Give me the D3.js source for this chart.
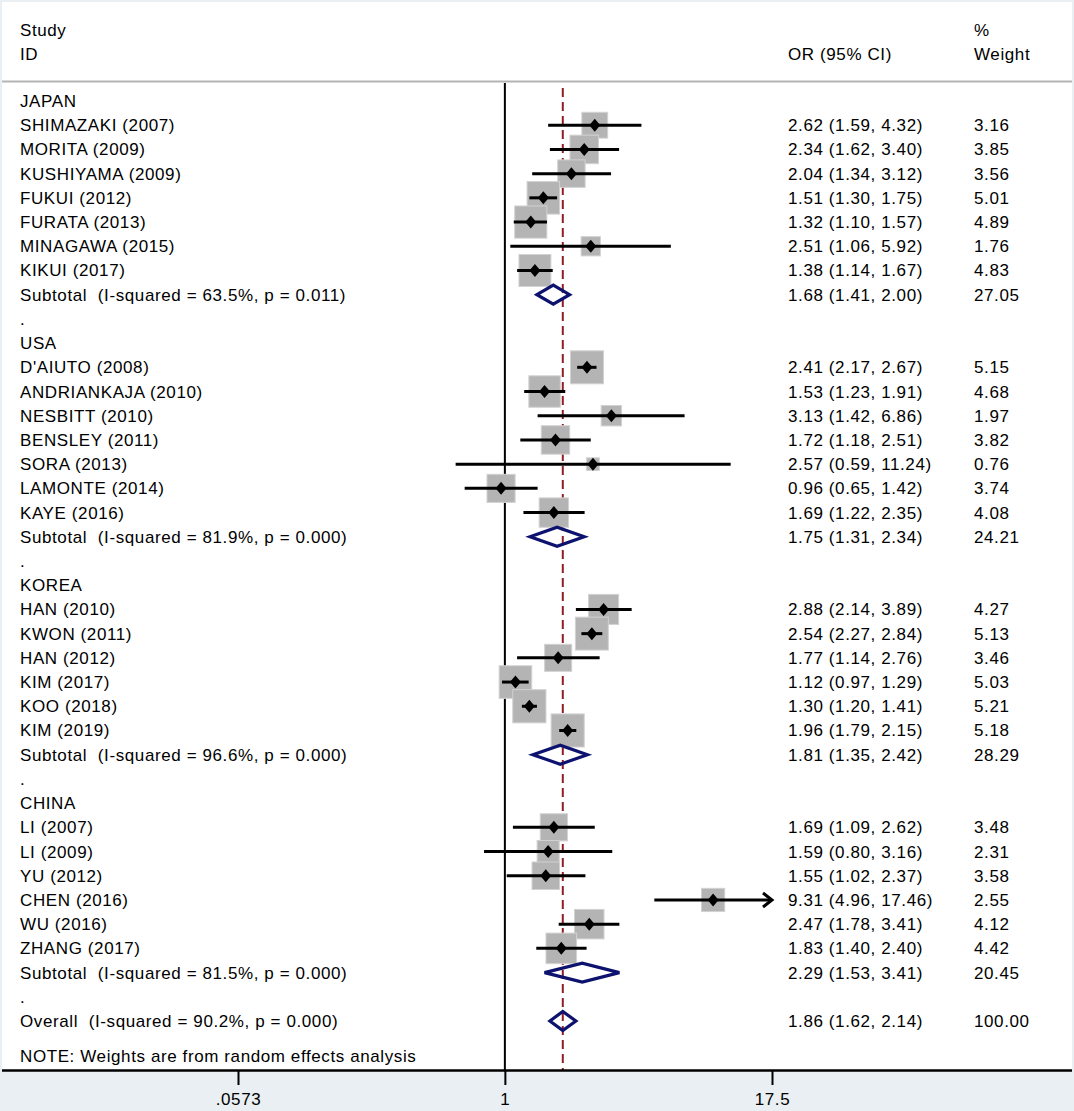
<!DOCTYPE html>
<html>
<head>
<meta charset="utf-8">
<script src="https://cdn.jsdelivr.net/npm/d3@7"></script>
<style>
  html, body { margin: 0; padding: 0; background: #fff; }
  svg text { font-family: "Liberation Sans", Arial, sans-serif; font-size: 17px; letter-spacing: 0.6px; fill: #000; white-space: pre; }
</style>
</head>
<body>
<svg id="chart"></svg>
<script>
const WIDTH = 1074;
const HEIGHT = 1111;

// Subgroups, in drawing order
const groups = ["JAPAN", "USA", "KOREA", "CHINA"];

// Individual studies
const studyNames = [
    "SHIMAZAKI (2007)", "MORITA (2009)", "KUSHIYAMA (2009)", "FUKUI (2012)", "FURATA (2013)", "MINAGAWA (2015)", "KIKUI (2017)",
    "D'AIUTO (2008)", "ANDRIANKAJA (2010)", "NESBITT (2010)", "BENSLEY (2011)", "SORA (2013)", "LAMONTE (2014)", "KAYE (2016)",
    "HAN (2010)", "KWON (2011)", "HAN (2012)", "KIM (2017)", "KOO (2018)", "KIM (2019)",
    "LI (2007)", "LI (2009)", "YU (2012)", "CHEN (2016)", "WU (2016)", "ZHANG (2017)"
];
const studyGroup = [
    "JAPAN", "JAPAN", "JAPAN", "JAPAN", "JAPAN", "JAPAN", "JAPAN",
    "USA", "USA", "USA", "USA", "USA", "USA", "USA",
    "KOREA", "KOREA", "KOREA", "KOREA", "KOREA", "KOREA",
    "CHINA", "CHINA", "CHINA", "CHINA", "CHINA", "CHINA"
];
const studyOR = [2.62, 2.34, 2.04, 1.51, 1.32, 2.51, 1.38,
    2.41, 1.53, 3.13, 1.72, 2.57, 0.96, 1.69,
    2.88, 2.54, 1.77, 1.12, 1.30, 1.96,
    1.69, 1.59, 1.55, 9.31, 2.47, 1.83];
const studyLo = [1.59, 1.62, 1.34, 1.30, 1.10, 1.06, 1.14,
    2.17, 1.23, 1.42, 1.18, 0.59, 0.65, 1.22,
    2.14, 2.27, 1.14, 0.97, 1.20, 1.79,
    1.09, 0.80, 1.02, 4.96, 1.78, 1.40];
const studyHi = [4.32, 3.40, 3.12, 1.75, 1.57, 5.92, 1.67,
    2.67, 1.91, 6.86, 2.51, 11.24, 1.42, 2.35,
    3.89, 2.84, 2.76, 1.29, 1.41, 2.15,
    2.62, 3.16, 2.37, 17.46, 3.41, 2.40];
const studyWeight = [3.16, 3.85, 3.56, 5.01, 4.89, 1.76, 4.83,
    5.15, 4.68, 1.97, 3.82, 0.76, 3.74, 4.08,
    4.27, 5.13, 3.46, 5.03, 5.21, 5.18,
    3.48, 2.31, 3.58, 2.55, 4.12, 4.42];

// Subgroup pooled estimates
const subLabels = [
    "Subtotal  (I-squared = 63.5%, p = 0.011)",
    "Subtotal  (I-squared = 81.9%, p = 0.000)",
    "Subtotal  (I-squared = 96.6%, p = 0.000)",
    "Subtotal  (I-squared = 81.5%, p = 0.000)"
];
const subOR = [1.68, 1.75, 1.81, 2.29];
const subLo = [1.41, 1.31, 1.35, 1.53];
const subHi = [2.00, 2.34, 2.42, 3.41];
const subWeight = [27.05, 24.21, 28.29, 20.45];

// Overall estimate
const overallLabel = "Overall  (I-squared = 90.2%, p = 0.000)";
const overallOR = 1.86, overallLo = 1.62, overallHi = 2.14, overallWeight = 100.00;

const noteText = "NOTE: Weights are from random effects analysis";

// Axis
const tickValues = [0.0573, 1, 17.5];
const tickLabels = [".0573", "1", "17.5"];

const fmt2 = d3.format(".2f");

// Build the table rows: group header, studies, subtotal, spacer "."
const rows = [];
groups.forEach((g, gi) => {
    rows.push({ type: "group", label: g });
    studyNames.forEach((n, i) => {
        if (studyGroup[i] !== g) return;
        rows.push({ type: "study", label: n, or: studyOR[i], lo: studyLo[i], hi: studyHi[i], w: studyWeight[i] });
    });
    rows.push({ type: "sub", label: subLabels[gi], or: subOR[gi], lo: subLo[gi], hi: subHi[gi], w: subWeight[gi] });
    rows.push({ type: "dot", label: "." });
});
rows.push({ type: "sub", label: overallLabel, or: overallOR, lo: overallLo, hi: overallHi, w: overallWeight });
rows.forEach((r, i) => r.i = i);

// Scales
const scaleX = d3.scaleLog().domain([tickValues[0], tickValues[2]]).range([238, 772]);
const scaleY = d3.scaleLinear().domain([0, rows.length - 1]).range([101, 1021]);
const boxSide = w => 14.54 * Math.sqrt(w);

const PLOT_TOP = 2, PLOT_BOTTOM = 1070, PLOT_LEFT = 2, PLOT_RIGHT = 1072;

const svg = d3.select("#chart")
    .attr("width", WIDTH)
    .attr("height", HEIGHT);

// graph region and plot region
svg.append("rect").attr("width", WIDTH).attr("height", HEIGHT).attr("fill", "#e9eff2");
svg.append("rect")
    .attr("x", PLOT_LEFT).attr("y", PLOT_TOP)
    .attr("width", PLOT_RIGHT - PLOT_LEFT).attr("height", PLOT_BOTTOM - PLOT_TOP)
    .attr("fill", "#fff");

// header
const header = svg.append("g");
header.append("text").attr("x", 20).attr("y", 36).text("Study");
header.append("text").attr("x", 20).attr("y", 60).text("ID");
header.append("text").attr("x", 788).attr("y", 60).text("OR (95% CI)");
header.append("text").attr("x", 974).attr("y", 36).text("%");
header.append("text").attr("x", 974).attr("y", 60).text("Weight");
header.append("line")
    .attr("x1", PLOT_LEFT).attr("x2", PLOT_RIGHT)
    .attr("y1", 81.5).attr("y2", 81.5)
    .attr("stroke", "#b4b4b4").attr("stroke-width", 2);

// null line and overall line
svg.append("line")
    .attr("x1", scaleX(1)).attr("x2", scaleX(1))
    .attr("y1", 83).attr("y2", PLOT_BOTTOM)
    .attr("stroke", "#000").attr("stroke-width", 2);
svg.append("line")
    .attr("x1", scaleX(overallOR)).attr("x2", scaleX(overallOR))
    .attr("y1", 88).attr("y2", PLOT_BOTTOM)
    .attr("stroke", "#8e1f24").attr("stroke-width", 2)
    .attr("stroke-dasharray", "9,5");

const studies = rows.filter(r => r.type === "study");
const subs = rows.filter(r => r.type === "sub");
const xMax = scaleX.domain()[1];

// weight boxes
svg.append("g").selectAll("rect")
    .data(studies)
    .enter()
    .append("rect")
    .attr("x", d => scaleX(d.or) - boxSide(d.w) / 2)
    .attr("y", d => scaleY(d.i) - boxSide(d.w) / 2)
    .attr("width", d => boxSide(d.w))
    .attr("height", d => boxSide(d.w))
    .attr("fill", "#b4b4b4")
    .attr("stroke", "#d2d2d2")
    .attr("stroke-width", 1);

// confidence intervals
svg.append("g").selectAll("line")
    .data(studies)
    .enter()
    .append("line")
    .attr("x1", d => scaleX(d.lo))
    .attr("x2", d => scaleX(Math.min(d.hi, xMax)))
    .attr("y1", d => scaleY(d.i))
    .attr("y2", d => scaleY(d.i))
    .attr("stroke", "#000")
    .attr("stroke-width", 3);

// arrows where the CI runs into the axis edge
svg.append("g").selectAll("path")
    .data(studies.filter(d => d.hi >= xMax * 0.99))
    .enter()
    .append("path")
    .attr("d", d => {
        const x = scaleX(xMax), y = scaleY(d.i);
        return `M${x - 9},${y - 7}L${x},${y}L${x - 9},${y + 7}`;
    })
    .attr("fill", "none")
    .attr("stroke", "#000")
    .attr("stroke-width", 3);

// point estimates
svg.append("g").selectAll("path")
    .data(studies)
    .enter()
    .append("path")
    .attr("d", d => {
        const x = scaleX(d.or), y = scaleY(d.i);
        return `M${x - 5.5},${y}L${x},${y - 6.5}L${x + 5.5},${y}L${x},${y + 6.5}Z`;
    })
    .attr("fill", "#000");

// pooled diamonds
svg.append("g").selectAll("path")
    .data(subs)
    .enter()
    .append("path")
    .attr("d", d => {
        const y = scaleY(d.i);
        return `M${scaleX(d.lo)},${y}L${scaleX(d.or)},${y - 9.5}L${scaleX(d.hi)},${y}L${scaleX(d.or)},${y + 9.5}Z`;
    })
    .attr("fill", "none")
    .attr("stroke", "#0c126e")
    .attr("stroke-width", 3.2);

// table text
const txt = svg.append("g");
txt.selectAll("text.label")
    .data(rows)
    .enter()
    .append("text")
    .attr("class", "label")
    .attr("x", 20)
    .attr("y", d => scaleY(d.i) + 6)
    .text(d => d.label);
txt.selectAll("text.est")
    .data(rows.filter(r => r.or !== undefined))
    .enter()
    .append("text")
    .attr("class", "est")
    .attr("x", 788)
    .attr("y", d => scaleY(d.i) + 6)
    .text(d => `${fmt2(d.or)} (${fmt2(d.lo)}, ${fmt2(d.hi)})`);
txt.selectAll("text.wt")
    .data(rows.filter(r => r.w !== undefined))
    .enter()
    .append("text")
    .attr("class", "wt")
    .attr("x", 974)
    .attr("y", d => scaleY(d.i) + 6)
    .text(d => fmt2(d.w));
txt.append("text").attr("x", 20).attr("y", 1062).text(noteText);

// x axis
const axis = svg.append("g")
    .attr("transform", `translate(0, ${PLOT_BOTTOM + 1})`)
    .call(d3.axisBottom(scaleX)
        .tickValues(tickValues)
        .tickFormat((d, i) => tickLabels[i])
        .tickSize(14)
        .tickPadding(8));
axis.select(".domain").remove();
axis.selectAll(".tick line").attr("stroke", "#000").attr("stroke-width", 2);
axis.selectAll(".tick text")
    .attr("font-family", null).attr("font-size", null)
    .attr("fill", "#000");
svg.append("line")
    .attr("x1", PLOT_LEFT).attr("x2", PLOT_RIGHT)
    .attr("y1", PLOT_BOTTOM + 0.5).attr("y2", PLOT_BOTTOM + 0.5)
    .attr("stroke", "#000").attr("stroke-width", 2.5);
</script>
</body>
</html>
